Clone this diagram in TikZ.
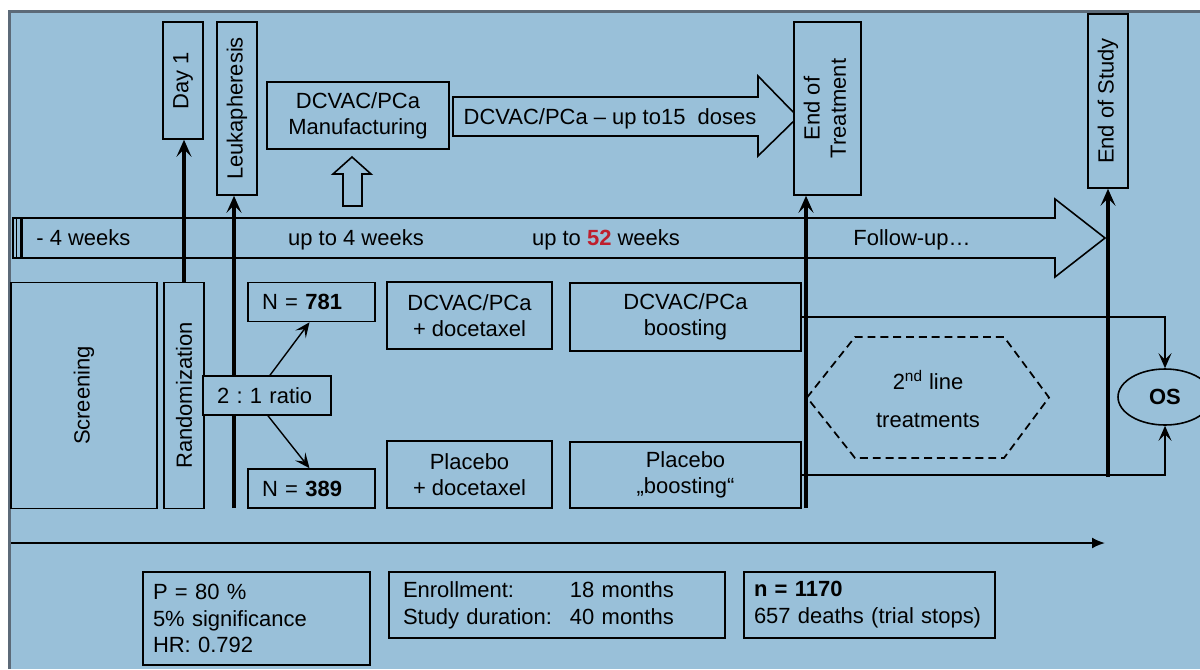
\documentclass[tikz,border=0pt]{standalone}
\usepackage{fontspec}
\setmainfont{Liberation Sans}
\usetikzlibrary{arrows.meta,positioning,calc,shapes.geometric}
\definecolor{bgblue}{RGB}{153,192,217}
\definecolor{framegray}{RGB}{92,106,120}
\definecolor{numred}{RGB}{190,30,45}
\frenchspacing
\tikzset{
  box/.style={draw=black, line width=0.9pt, fill=bgblue, inner sep=2pt, align=center},
  nbox/.style={box, minimum width=25.4mm, minimum height=7.8mm, text width=19.8mm, align=left},
  infobox/.style={box, align=left, font=\fontsize{12.5}{15.3}\selectfont},
  bigarrow/.style={draw=black, line width=0.9pt, fill=bgblue},
  tltext/.style={inner sep=0pt, text height=9pt, text depth=0pt},
  hexline/.style={draw=black, line width=1pt, dash pattern=on 4.5pt off 2.8pt},
  outcome/.style={ellipse, draw=black, line width=0.9pt, fill=bgblue, minimum width=18.8mm, minimum height=11.2mm, font=\fontsize{12.5}{15}\selectfont\bfseries},
  arrow/.style={-{Stealth[length=3.4mm,width=3mm,inset=1.5mm]}, line width=1.8pt},
  thinarrow/.style={-{Stealth[length=3mm,width=2.6mm,inset=1.3mm]}, line width=0.8pt},
  axisarrow/.style={-{Latex[length=2.6mm,width=2.2mm]}, line width=1.1pt}
}

\begin{document}
\begin{tikzpicture}[x=0.2mm, y=-0.2mm, font=\fontsize{12.5}{15}\selectfont]
  \useasboundingbox (0,0) rectangle (1200,669);
  \fill[bgblue] (9.5,11.5) rectangle (1200,669);
  \draw[framegray, line width=1.6pt] (9.5,669) -- (9.5,11.5) -- (1200,11.5);

  \draw[bigarrow] (13,218) -- (1055,218) -- (1055,199) -- (1105,238) -- (1055,277) -- (1055,258) -- (13,258) -- cycle;
  \draw[line width=0.5pt] (16.5,218) -- (16.5,258);
  \draw[line width=1.3pt] (21.5,218) -- (21.5,258);
  \draw[bigarrow] (453,97) -- (758,97) -- (758,76) -- (798,117) -- (758,156) -- (758,136) -- (453,136) -- cycle;
  \draw[bigarrow] (343,206) -- (343,174) -- (333,174) -- (352,157) -- (371,174) -- (362,174) -- (362,206) -- cycle;

  \node[tltext, anchor=west] (wk0) at (36,238) {- 4 weeks};
  \node[tltext] (wk4) at (356,238) {up to 4 weeks};
  \node[tltext] (wk52) at (606,238) {up to \textcolor{numred}{\textbf{52}} weeks};
  \node[tltext] (fup) at (912,238) {Follow-up…};
  \node[tltext] (doses) at (610,117) {DCVAC/PCa – up to15\ \ doses};

  \node[box, minimum width=8mm, minimum height=23.4mm] (day1) at (183,80.5) {\rotatebox{90}{Day 1}};
  \node[box, minimum width=8mm, minimum height=34.6mm] (leuka) at (237,108.5) {\rotatebox{90}{Leukapheresis}};
  \node[box, minimum width=36.4mm, minimum height=13.4mm] (manuf) at (358,115.5) {DCVAC/PCa\\Manufacturing};
  \node[box, minimum width=13.4mm, minimum height=34.6mm] (eot) at (827.5,108.5) {\rotatebox{90}{\begin{tabular}{@{}c@{}}End of\\Treatment\end{tabular}}};
  \node[box, minimum width=8mm, minimum height=34.8mm] (eos) at (1108,101) {\rotatebox{90}{End of Study}};

  \node[box, minimum width=29.2mm, minimum height=45.2mm] (screen) at (84,395.5) {\rotatebox{90}{Screening}};
  \node[box, minimum width=8mm, minimum height=45.2mm] (rand) at (184,395.5) {\rotatebox{90}{Randomization}};
  \node[nbox] (n781) at (311.5,302) {N = \textbf{781}};
  \node[nbox] (n389) at (311.5,488.5) {N = \textbf{389}};
  \node[box, minimum width=33mm, minimum height=13.4mm] (dcdoc) at (469.5,315.5) {DCVAC/PCa\\+ docetaxel};
  \node[box, minimum width=33mm, minimum height=13.4mm] (pldoc) at (469.5,474.5) {Placebo\\+ docetaxel};
  \node[box, minimum width=46.2mm, minimum height=13.6mm] (dcboost) at (685.5,317) {DCVAC/PCa\\boosting};
  \node[box, minimum width=46.2mm, minimum height=13.2mm] (plboost) at (685.5,475) {Placebo\\„boosting“};

  \draw[hexline] (807,397.5) -- (855,337) -- (1004,337) -- (1049,397.5) -- (1004,458) -- (855,458) -- cycle;
  \node[align=center, font=\fontsize{12.5}{21.5}\selectfont] (hex) at (928,399) {2\textsuperscript{nd} line\\treatments};
  \node[outcome] (os) at (1165,397) {OS};

  \coordinate (lkfoot) at (234,508);
  \coordinate (eotfoot) at (806,508);
  \coordinate (eosfoot) at (1108,477);
  \draw[arrow] (rand.north) -- (rand.north |- day1.south);
  \draw[arrow] (lkfoot) -- (lkfoot |- leuka.south);
  \draw[arrow] (eotfoot) -- (eotfoot |- eot.south);
  \draw[arrow] (eosfoot) -- (eos.south);
  \draw[thinarrow] (dcboost.east) -| (os.north);
  \draw[thinarrow] (plboost.east) -| (os.south);

  \node[box, minimum width=25.6mm, minimum height=7.8mm, text width=20mm, align=left] (ratio) at (267,395.5) {2 : 1 ratio};
  \draw[thinarrow] ([xshift=0.6mm]ratio.north) -- ([xshift=-0.4mm]n781.south);
  \draw[thinarrow] ([xshift=0.2mm]ratio.south) -- ([xshift=-0.4mm]n389.north);

  \coordinate (tstart) at (11,543);
  \coordinate (tend) at (1105,543);
  \draw[axisarrow] (tstart) -- (tend);
  \node[infobox, minimum width=45.4mm, minimum height=18.6mm, text width=41.4mm] (power) at (256.5,618.5) {P = 80 \%\\5\% significance\\HR: 0.792};
  \node[infobox, minimum width=67.2mm, minimum height=13.2mm, text width=61.6mm] (timing) at (557,605) {\makebox[33.4mm][l]{Enrollment:}18 months\\\makebox[33.4mm][l]{Study duration:}40 months};
  \node[infobox, minimum width=50.2mm, minimum height=13.2mm, text width=46.2mm] (size) at (869.5,605) {\textbf{n = 1170}\\657 deaths (trial stops)};
\end{tikzpicture}
\end{document}
